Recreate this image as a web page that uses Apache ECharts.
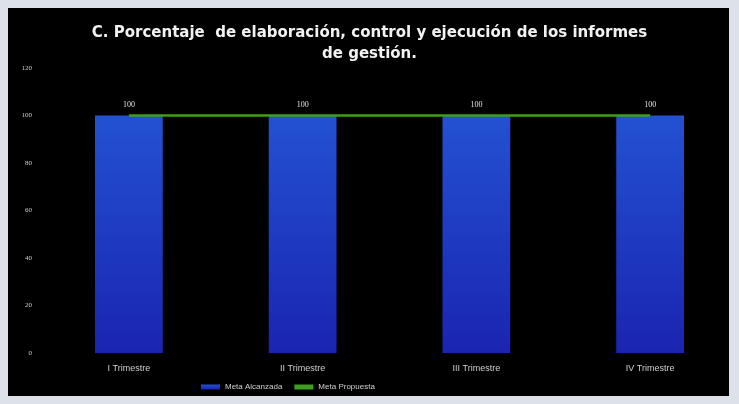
<!DOCTYPE html>
<html>
<head>
<meta charset="utf-8">
<script src="https://cdn.jsdelivr.net/npm/echarts@6/dist/echarts.min.js"></script>
<style>
  body { margin: 0; background: #dde2ea; }
  #frame { position: absolute; left: 8px; top: 8px; width: 721px; height: 388px; background: #000; }
  #chart { position: absolute; left: 0; top: 0; width: 739px; height: 404px; }
</style>
</head>
<body>
<div id="frame"></div>
<div id="chart"></div>
<script>
var categories = ['I Trimestre', 'II Trimestre', 'III Trimestre', 'IV Trimestre'];
var metaAlcanzada = [100, 100, 100, 100];
var metaPropuesta = [100, 100, 100, 100];

var myChart = echarts.init(document.getElementById('chart'));

var option = {
    backgroundColor: 'transparent',
    title: {
        text: 'C. Porcentaje  de elaboración, control y ejecución de los informes\nde gestión.',
        left: 'center',
        top: 18,
        textStyle: {
            color: '#f2f2f2',
            fontFamily: 'DejaVu Sans',
            fontWeight: 'bold',
            fontSize: 15,
            lineHeight: 21
        }
    },
    legend: {
        bottom: 8,
        left: 196,
        itemWidth: 19,
        itemHeight: 5,
        itemGap: 12,
        textStyle: { color: '#cfcfcf', fontSize: 8, fontFamily: 'Liberation Sans' },
        data: [
            { name: 'Meta Alcanzada', icon: 'rect' },
            { name: 'Meta Propuesta', icon: 'rect' }
        ]
    },
    grid: {
        left: 42,
        right: 2,
        top: 68,
        bottom: 51
    },
    xAxis: {
        type: 'category',
        data: categories,
        axisLine: { show: false },
        axisTick: { show: false },
        axisLabel: { color: '#cfcfcf', fontSize: 9, margin: 11, fontFamily: 'Liberation Sans' }
    },
    yAxis: {
        type: 'value',
        min: 0,
        max: 120,
        interval: 20,
        splitLine: { show: false },
        axisLine: { show: false },
        axisTick: { show: false },
        axisLabel: { color: '#cfcfcf', fontSize: 7, margin: 10, fontFamily: 'Liberation Serif' }
    },
    series: [
        {
            name: 'Meta Alcanzada',
            type: 'bar',
            barWidth: '39%',
            data: metaAlcanzada,
            itemStyle: {
                color: new echarts.graphic.LinearGradient(0, 0, 0, 1, [
                    { offset: 0, color: '#2351d2' },
                    { offset: 1, color: '#1a24b0' }
                ])
            },
            label: {
                show: true,
                position: 'top',
                distance: 7,
                color: '#e0e0e0',
                fontSize: 8,
                fontFamily: 'Liberation Serif'
            }
        },
        {
            name: 'Meta Propuesta',
            type: 'line',
            data: metaPropuesta,
            symbol: 'none',
            z: 5,
            itemStyle: { color: '#3c9e22' },
            lineStyle: { color: '#3c9e22', width: 2.5 }
        }
    ]
};

myChart.setOption(option);
</script>
</body>
</html>
